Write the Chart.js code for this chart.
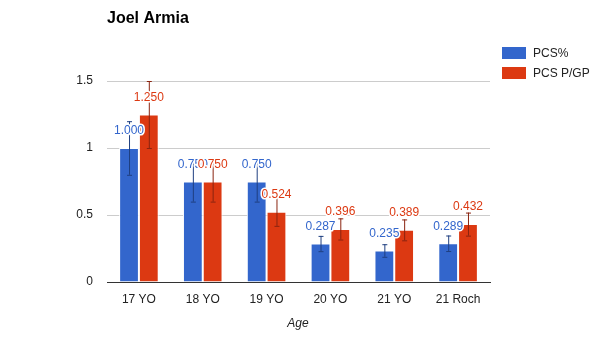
<!DOCTYPE html>
<html><head><meta charset="utf-8">
<script src="https://cdn.jsdelivr.net/npm/chart.js@4.4.0/dist/chart.umd.min.js"></script>
<style>html,body{margin:0;padding:0;background:#fff}#w{width:600px;height:348px}</style>
</head><body><div id="w"><canvas id="c"></canvas></div>
<script>
const chartTitle = "Joel Armia";
const xAxisTitle = "Age";
const categories = ["17 YO", "18 YO", "19 YO", "20 YO", "21 YO", "21 Roch"];
const seriesNames = ["PCS%", "PCS P/GP"];
const pcsPct = [1.000, 0.750, 0.750, 0.287, 0.235, 0.289];
const pcsPerGP = [1.250, 0.750, 0.524, 0.396, 0.389, 0.432];
const pcsPctErr = [0.20, 0.15, 0.15, 0.057, 0.047, 0.058];
const pcsPerGPErr = [0.25, 0.15, 0.105, 0.079, 0.078, 0.086];
const yTicks = [0, 0.5, 1, 1.5];

const FONT = "Arial, 'Liberation Sans', sans-serif";
const colors = ["#3366cc", "#dc3912"];
const errColors = ["#1f3f80", "#8a2410"];
const errs = [pcsPctErr, pcsPerGPErr];

const overlay = {
  id: 'overlay',
  afterDatasetsDraw(chart) {
    const ctx = chart.ctx;
    const y = chart.scales.y;
    // error bars
    chart.data.datasets.forEach((ds, i) => {
      const meta = chart.getDatasetMeta(i);
      meta.data.forEach((bar, j) => {
        const v = ds.data[j], e = errs[i][j];
        const yt = y.getPixelForValue(v + e), yb = y.getPixelForValue(v - e);
        ctx.save();
        ctx.strokeStyle = errColors[i];
        ctx.lineWidth = 1;
        ctx.beginPath();
        ctx.moveTo(bar.x + 0.5, yt); ctx.lineTo(bar.x + 0.5, yb);
        ctx.moveTo(bar.x - 2, yt + 0.5); ctx.lineTo(bar.x + 3, yt + 0.5);
        ctx.moveTo(bar.x - 2, yb + 0.5); ctx.lineTo(bar.x + 3, yb + 0.5);
        ctx.stroke();
        ctx.restore();
      });
    });
    // value labels
    chart.data.datasets.forEach((ds, i) => {
      const meta = chart.getDatasetMeta(i);
      meta.data.forEach((bar, j) => {
        const txt = ds.data[j].toFixed(3);
        ctx.save();
        ctx.font = "12px " + FONT;
        ctx.textAlign = "center";
        ctx.textBaseline = "middle";
        ctx.lineWidth = 3;
        ctx.lineJoin = "round";
        ctx.strokeStyle = "#fff";
        ctx.strokeText(txt, bar.x, bar.y - 17);
        ctx.fillStyle = colors[i];
        ctx.fillText(txt, bar.x, bar.y - 17);
        ctx.restore();
      });
    });
  },
  afterDraw(chart) {
    const ctx = chart.ctx;
    ctx.save();
    ctx.font = "bold 16px " + FONT;
    ctx.fillStyle = "#000";
    ctx.textBaseline = "middle";
    ctx.textAlign = "left";
    ctx.fillText(chartTitle, 107, 19);
    // legend
    ctx.font = "12px " + FONT;
    chart.data.datasets.forEach((ds, i) => {
      const yy = 47 + i * 20;
      ctx.fillStyle = colors[i];
      ctx.fillRect(502, yy, 24, 12);
      ctx.fillStyle = "#222";
      ctx.fillText(ds.label, 533, yy + 6.5);
    });
    // axis title
    ctx.font = "italic 12px " + FONT;
    ctx.textAlign = "center";
    ctx.fillStyle = "#222";
    ctx.fillText(xAxisTitle, 298, 324);
    ctx.restore();
  }
};

new Chart(document.getElementById('c'), {
  type: 'bar',
  data: {
    labels: categories,
    datasets: [
      { label: seriesNames[0], data: pcsPct, backgroundColor: colors[0], borderColor: "#fff", borderWidth: 1 },
      { label: seriesNames[1], data: pcsPerGP, backgroundColor: colors[1], borderColor: "#fff", borderWidth: 1 }
    ]
  },
  options: {
    responsive: true,
    maintainAspectRatio: false,
    animation: false,
    layout: { padding: { left: 0, right: 110, top: 81, bottom: 0 } },
    plugins: { legend: { display: false }, title: { display: false }, tooltip: { enabled: false } },
    datasets: { bar: { categoryPercentage: 0.62, barPercentage: 1.0 } },
    scales: {
      x: {
        grid: { display: false, drawTicks: false },
        border: { color: "#333" },
        ticks: { color: "#222", font: { family: FONT, size: 12 }, padding: 10, maxRotation: 0 },
        afterFit(s) { s.height = 66; }
      },
      y: {
        min: 0, max: 1.5,
        afterBuildTicks(s) { s.ticks = yTicks.map(v => ({ value: v })); },
        grid: { color: c => c.tick && c.tick.value === 0 ? "#333" : "#cccccc", drawTicks: false },
        border: { display: false },
        ticks: { color: "#222", font: { family: FONT, size: 12 }, padding: 14, callback: v => String(v) },
        afterFit(s) { s.width = 107; }
      }
    }
  },
  plugins: [overlay]
});
</script>
</body></html>
